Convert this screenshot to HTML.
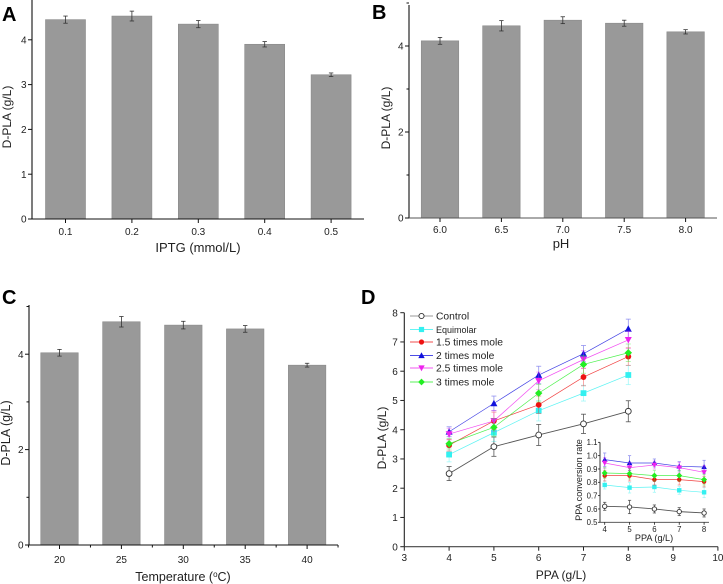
<!DOCTYPE html>
<html lang="en">
<head>
<meta charset="utf-8">
<title>D-PLA production charts</title>
<style>
html,body{margin:0;padding:0;background:#fff;}
svg{display:block;font-family:"Liberation Sans",sans-serif;fill:#222;filter:blur(0.3px);}
</style>
</head>
<body>
<svg id="figure" xmlns="http://www.w3.org/2000/svg" width="723" height="584" viewBox="0 0 723 584"></svg>
<script>
// Panel A data
const iptgCategories = ['0.1', '0.2', '0.3', '0.4', '0.5'];
const iptgValues = [4.45, 4.53, 4.35, 3.90, 3.22];
const iptgErrors = [0.08, 0.11, 0.08, 0.06, 0.04];
const iptgTicks = [0, 1, 2, 3, 4];

// Panel B data
const phCategories = ['6.0', '6.5', '7.0', '7.5', '8.0'];
const phValues = [4.12, 4.47, 4.60, 4.53, 4.33];
const phErrors = [0.08, 0.12, 0.08, 0.07, 0.05];
const phTicks = [0, 2, 4];
const phMinorTicks = [1, 3, 5];

// Panel C data
const tempCategories = ['20', '25', '30', '35', '40'];
const tempValues = [4.03, 4.68, 4.61, 4.53, 3.77];
const tempErrors = [0.07, 0.11, 0.08, 0.07, 0.04];
const tempTicks = [0, 2, 4];
const tempMinorTicks = [1, 3, 5];

// Panel D data
const ppaX = [4, 5, 6, 7, 8];
const ppaXTicks = [3, 4, 5, 6, 7, 8, 9, 10];
const ppaYTicks = [0, 1, 2, 3, 4, 5, 6, 7, 8];
const seriesNames = ['Control', 'Equimolar', '1.5 times mole', '2 times mole', '2.5 times mole', '3 times mole'];
const seriesColors = ['#555555', '#33f0f0', '#ee1111', '#1111dd', '#ee22ee', '#22ee22'];
const seriesMarkers = ['circle', 'square', 'circle', 'up', 'down', 'diamond'];
const controlValues = [2.50, 3.42, 3.82, 4.20, 4.63];
const controlErrors = [0.24, 0.33, 0.36, 0.33, 0.36];
const equimolarValues = [3.15, 3.90, 4.65, 5.25, 5.87];
const equimolarErrors = [0.25, 0.30, 0.35, 0.27, 0.33];
const x15Values = [3.47, 4.30, 4.85, 5.80, 6.50];
const x15Errors = [0.20, 0.30, 0.30, 0.30, 0.30];
const x2Values = [3.93, 4.90, 5.87, 6.60, 7.45];
const x2Errors = [0.17, 0.25, 0.30, 0.28, 0.33];
const x25Values = [3.85, 4.30, 5.67, 6.40, 7.07];
const x25Errors = [0.20, 0.35, 0.30, 0.30, 0.30];
const x3Values = [3.52, 4.08, 5.25, 6.23, 6.63];
const x3Errors = [0.18, 0.30, 0.30, 0.30, 0.30];
const mainValues = [controlValues, equimolarValues, x15Values, x2Values, x25Values, x3Values];
const mainErrors = [controlErrors, equimolarErrors, x15Errors, x2Errors, x25Errors, x3Errors];

// Panel D inset data
const insetYTicks = [0.5, 0.6, 0.7, 0.8, 0.9, 1.0, 1.1];
const insetControl = [0.62, 0.615, 0.60, 0.58, 0.57];
const insetControlErr = [0.03, 0.05, 0.03, 0.03, 0.03];
const insetEquimolar = [0.78, 0.76, 0.765, 0.74, 0.725];
const insetEquimolarErr = [0.03, 0.04, 0.04, 0.03, 0.04];
const insetX15 = [0.85, 0.85, 0.82, 0.82, 0.805];
const insetX15Err = [0.04, 0.04, 0.04, 0.04, 0.04];
const insetX2 = [0.97, 0.945, 0.945, 0.92, 0.915];
const insetX2Err = [0.05, 0.055, 0.03, 0.035, 0.05];
const insetX25 = [0.945, 0.91, 0.93, 0.91, 0.875];
const insetX25Err = [0.04, 0.04, 0.03, 0.04, 0.05];
const insetX3 = [0.87, 0.865, 0.85, 0.85, 0.82];
const insetX3Err = [0.04, 0.04, 0.04, 0.04, 0.04];
const insetValues = [insetControl, insetEquimolar, insetX15, insetX2, insetX25, insetX3];
const insetErrors = [insetControlErr, insetEquimolarErr, insetX15Err, insetX2Err, insetX25Err, insetX3Err];

const NS = 'http://www.w3.org/2000/svg';
const svg = document.getElementById('figure');

function add(parent, tag, attrs, text) {
  const el = document.createElementNS(NS, tag);
  for (const k in attrs) el.setAttribute(k, attrs[k]);
  if (text !== undefined) el.textContent = text;
  parent.appendChild(el);
  
  return el;
}

function line(parent, x1, y1, x2, y2, color, width) {
  const el = add(parent, 'line', {x1: x1, y1: y1, x2: x2, y2: y2, stroke: color, 'stroke-width': width});
  
  return el;
}

function label(parent, x, y, text, size, anchor, rotate) {
  const attrs = {x: x, y: y, 'font-size': size, 'text-anchor': anchor};
  if (rotate) attrs.transform = 'rotate(-90 ' + x + ' ' + y + ')';
  return add(parent, 'text', attrs, text);
}

function panelLetter(parent, x, y, text) {
  const el = add(parent, 'text', {x: x, y: y, 'font-size': 20, 'font-weight': 'bold', fill: '#000'}, text);
  
}

function errorBar(parent, x, yLow, yHigh, cap, color, opacity) {
  const g = add(parent, 'g', {stroke: color, 'stroke-width': 0.8, opacity: opacity});
  
  add(g, 'line', {x1: x, y1: yLow, x2: x, y2: yHigh});
  add(g, 'line', {x1: x - cap, y1: yLow, x2: x + cap, y2: yLow});
  add(g, 'line', {x1: x - cap, y1: yHigh, x2: x + cap, y2: yHigh});
}

function drawBarPanel(cfg) {
  const g = add(svg, 'g', {});
  
  const yScale = v => cfg.y0 - v * cfg.yUnit;
  const xScale = i => cfg.x0 + i * cfg.xStep;

  cfg.values.forEach((v, i) => {
    const bar = add(g, 'rect', {x: xScale(i) - cfg.barW / 2, y: yScale(v), width: cfg.barW, height: cfg.y0 - yScale(v), fill: '#999999', stroke: '#8a8a8a', 'stroke-width': 0.6});
    
    errorBar(g, xScale(i), yScale(v - cfg.errors[i]), yScale(v + cfg.errors[i]), 2.2, '#333', 1);
  });

  line(g, cfg.axisX, cfg.axisTop, cfg.axisX, cfg.y0 + 0.5, '#111', 1.1);
  line(g, cfg.axisLeft, cfg.y0, cfg.axisRight, cfg.y0, cfg.baseColor, 1.1);

  cfg.yTicks.forEach(t => {
    line(g, cfg.axisX - 4, yScale(t), cfg.axisX, yScale(t), '#111', 1);
    const el = label(g, cfg.axisX - 5.5, yScale(t) + 3.6, String(t), 10, 'end');
    
  });
  (cfg.yMinor || []).forEach(t => {
    line(g, cfg.axisX - 2.5, yScale(t), cfg.axisX, yScale(t), '#111', 1);
  });
  cfg.categories.forEach((c, i) => {
    line(g, xScale(i), cfg.y0, xScale(i), cfg.y0 + 4, '#111', 1);
    const el = label(g, xScale(i), cfg.xLabelY, c, 10, 'middle');
    
  });
  if (cfg.xMinor) {
    for (let i = -0.5; i <= cfg.categories.length - 0.5; i += 1) {
      line(g, xScale(i), cfg.y0, xScale(i), cfg.y0 + 2.5, '#111', 1);
    }
  }
  const yt = label(g, cfg.yTitleX, cfg.yTitleY, 'D-PLA (g/L)', cfg.yTitleSize, 'middle', true);
  
  let xt;
  if (cfg.degree) {
    xt = add(g, 'text', {x: cfg.xTitleX, y: cfg.xTitleY, 'font-size': 12.5, 'text-anchor': 'middle'});
    add(xt, 'tspan', {}, 'Temperature (');
    add(xt, 'tspan', {dy: -4, 'font-size': 8}, 'o');
    add(xt, 'tspan', {dy: 4}, 'C)');
  } else {
    xt = label(g, cfg.xTitleX, cfg.xTitleY, cfg.xTitle, 13, 'middle');
  }
  
}

function marker(parent, type, cx, cy, r, color) {
  let el;
  if (type === 'circle') {
    el = add(parent, 'circle', {cx: cx, cy: cy, r: r, fill: color});
  } else if (type === 'square') {
    el = add(parent, 'rect', {x: cx - r, y: cy - r, width: 2 * r, height: 2 * r, fill: color});
  } else if (type === 'up') {
    el = add(parent, 'polygon', {points: [cx - r - 0.6, cy + r, cx + r + 0.6, cy + r, cx, cy - r - 0.6].join(' '), fill: color});
  } else if (type === 'down') {
    el = add(parent, 'polygon', {points: [cx - r - 0.6, cy - r, cx + r + 0.6, cy - r, cx, cy + r + 0.6].join(' '), fill: color});
  } else {
    el = add(parent, 'polygon', {points: [cx - r - 0.8, cy, cx, cy - r - 0.8, cx + r + 0.8, cy, cx, cy + r + 0.8].join(' '), fill: color});
  }
  return el;
}

function drawSeries(parent, xs, ys, errs, si, xScale, yScale, r, cap) {
  const g = add(parent, 'g', {});
  
  const color = seriesColors[si];
  ys.forEach((v, i) => {
    errorBar(g, xScale(xs[i]), yScale(v - errs[i]), yScale(v + errs[i]), cap, si === 0 ? '#555' : color, si === 0 ? 1 : 0.45);
  });
  const pts = ys.map((v, i) => xScale(xs[i]) + ',' + yScale(v)).join(' ');
  const pl = add(g, 'polyline', {points: pts, fill: 'none', stroke: color, 'stroke-width': si === 0 ? 0.9 : 0.7, opacity: si === 0 ? 1 : 0.8});
  
  ys.forEach((v, i) => {
    let m;
    if (si === 0) {
      m = add(g, 'circle', {cx: xScale(xs[i]), cy: yScale(v), r: r, fill: '#fff', stroke: '#333', 'stroke-width': 0.9});
    } else {
      m = marker(g, seriesMarkers[si], xScale(xs[i]), yScale(v), r, color);
    }
    
  });
}

// Panels A, B, C
drawBarPanel({name: 'panel-a-iptg', categories: iptgCategories, values: iptgValues, errors: iptgErrors, yTicks: iptgTicks,
  x0: 65.5, xStep: 66.4, barW: 40, y0: 219, yUnit: 44.8, axisX: 32, axisTop: 0, axisLeft: 28, axisRight: 364, baseColor: '#111',
  xLabelY: 235, xTitle: 'IPTG (mmol/L)', xTitleX: 198, xTitleY: 252, yTitleX: 11, yTitleY: 117, yTitleSize: 12});
drawBarPanel({name: 'panel-b-ph', categories: phCategories, values: phValues, errors: phErrors, yTicks: phTicks, yMinor: phMinorTicks,
  x0: 440, xStep: 61.4, barW: 37.5, y0: 218, yUnit: 43, axisX: 409, axisTop: 5, axisLeft: 405, axisRight: 717, baseColor: '#555',
  xLabelY: 233, xTitle: 'pH', xTitleX: 561, xTitleY: 248, yTitleX: 390, yTitleY: 118, yTitleSize: 12});
drawBarPanel({name: 'panel-c-temperature', categories: tempCategories, values: tempValues, errors: tempErrors, yTicks: tempTicks, yMinor: tempMinorTicks,
  x0: 59.5, xStep: 61.9, barW: 37.5, y0: 545, yUnit: 47.7, axisX: 29, axisTop: 305, axisLeft: 25, axisRight: 338, baseColor: '#111', xMinor: true,
  xLabelY: 563, degree: true, xTitleX: 183, xTitleY: 581, yTitleX: 10, yTitleY: 433, yTitleSize: 12.5});

panelLetter(svg, 2, 21, 'A');
panelLetter(svg, 372, 19, 'B');
panelLetter(svg, 2, 304, 'C');
panelLetter(svg, 361, 304, 'D');

// Panel D main plot
const panelD = add(svg, 'g', {});

const dx = v => 404.3 + (v - 3) * 44.8;
const dy = v => 546.7 - v * 29.25;
mainValues.forEach((vals, si) => {
  drawSeries(panelD, ppaX, vals, mainErrors[si], si, dx, dy, 2.9, 2.5);
});
line(panelD, dx(3), dy(8), dx(3), dy(0), '#222', 1.1);
line(panelD, dx(3), dy(0), dx(10), dy(0), '#444', 1.2);
ppaYTicks.forEach(t => {
  line(panelD, dx(3) - 4, dy(t), dx(3), dy(t), '#222', 1);
  const el = label(panelD, dx(3) - 6.5, dy(t) + 3.6, String(t), 10, 'end');
  
});
ppaXTicks.forEach(t => {
  line(panelD, dx(t), dy(0), dx(t), dy(0) + 4, '#222', 1);
  const el = label(panelD, dx(t), 561, String(t), 10, 'middle');
  
});
const dyTitle = label(panelD, 386, 438, 'D-PLA (g/L)', 12, 'middle', true);

const dxTitle = label(panelD, 561, 579, 'PPA (g/L)', 12, 'middle');


// Legend
const legendRows = [316, 329.5, 342, 355.5, 368, 382];
const legend = add(panelD, 'g', {});

seriesNames.forEach((name, si) => {
  const row = add(legend, 'g', {});
  
  const y = legendRows[si];
  const key = add(row, 'line', {x1: 410, y1: y, x2: 433, y2: y, stroke: si === 0 ? '#777' : seriesColors[si], 'stroke-width': 0.8});
  
  let m;
  if (si === 0) {
    m = add(row, 'circle', {cx: 421.5, cy: y, r: 2.6, fill: '#fff', stroke: '#333', 'stroke-width': 0.9});
  } else {
    m = marker(row, seriesMarkers[si], 421.5, y, 2.6, seriesColors[si]);
  }
  
  const t = label(row, 436, y + 3.6, name, si === 1 ? 9 : 10.3, 'start');
  
});

// Inset
const inset = add(panelD, 'g', {});

const ix = v => 604.7 + (v - 4) * 24.85;
const iy = v => 522.3 - (v - 0.5) * 133.3;
insetValues.forEach((vals, si) => {
  drawSeries(inset, ppaX, vals, insetErrors[si], si, ix, iy, 2.2, 1.6);
});
line(inset, 600, iy(1.1), 600, iy(0.5), '#222', 0.9);
line(inset, 600, iy(0.5), 709, iy(0.5), '#444', 0.9);
insetYTicks.forEach(t => {
  line(inset, 598, iy(t), 600, iy(t), '#222', 0.8);
  const el = label(inset, 597.5, iy(t) + 2.8, t.toFixed(1), 7.8, 'end');
  
});
ppaX.forEach(t => {
  line(inset, ix(t), iy(0.5), ix(t), iy(0.5) + 2.5, '#222', 0.8);
  const el = label(inset, ix(t), 532, String(t), 7.8, 'middle');
  
});
const iyTitle = label(inset, 582, 480, 'PPA conversion rate', 9.1, 'middle', true);

const ixTitle = label(inset, 654, 541, 'PPA (g/L)', 9.1, 'middle');

</script>
</body>
</html>
